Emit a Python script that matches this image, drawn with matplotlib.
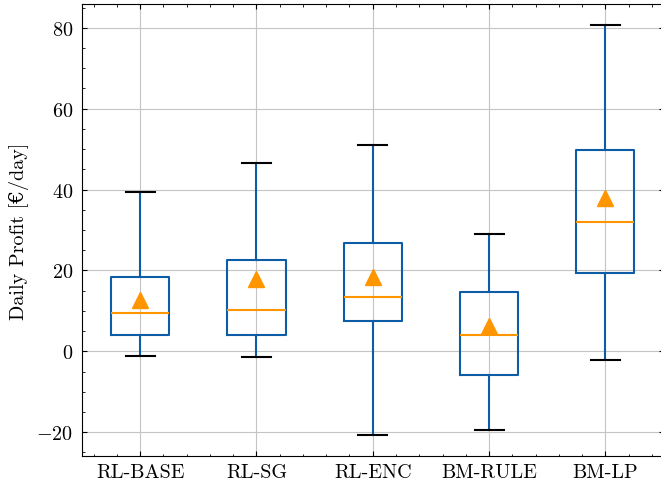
import matplotlib
matplotlib.use("Agg")
import matplotlib.pyplot as plt

# values
labels = ["RL-BASE", "RL-SG", "RL-ENC", "BM-RULE", "BM-LP"]
whis_lo = [-1.2, -1.3, -20.8, -19.5, -2.1]
q1 = [4.0, 4.0, 7.6, -5.8, 19.4]
med = [9.5, 10.1, 13.4, 4.1, 32.1]
q3 = [18.4, 22.5, 26.7, 14.6, 49.8]
whis_hi = [39.3, 46.6, 51.1, 29.1, 80.8]
means = [12.8, 18.0, 18.3, 6.2, 37.9]

plt.rcParams.update({
    "font.family": ["cmr10", "DejaVu Serif"],
    "mathtext.fontset": "cm",
    "axes.formatter.use_mathtext": True,
    "font.size": 14.5,
    "xtick.direction": "in",
    "ytick.direction": "in",
    "xtick.top": True,
    "ytick.right": True,
    "xtick.minor.visible": True,
    "ytick.minor.visible": True,
    "xtick.major.size": 3.5,
    "ytick.major.size": 3.5,
    "xtick.minor.size": 1.8,
    "ytick.minor.size": 1.8,
    "axes.linewidth": 0.8,
})

stats = []
for i in range(len(labels)):
    stats.append(dict(label=labels[i], whislo=whis_lo[i], q1=q1[i], med=med[i],
                      q3=q3[i], whishi=whis_hi[i], mean=means[i], fliers=[]))

fig = plt.figure(figsize=(6.61, 4.85), dpi=100)
ax = fig.add_axes([82 / 661, 1 - 457 / 485, 581.5 / 661, 452 / 485])

blue = "#0C5DA5"
orange = "#FF9500"
ax.bxp(stats, showmeans=True, widths=0.5,
       boxprops=dict(color=blue, linewidth=1.5),
       whiskerprops=dict(color=blue, linewidth=1.5),
       capprops=dict(color="black", linewidth=1.5),
       medianprops=dict(color=orange, linewidth=1.5),
       meanprops=dict(marker="^", markerfacecolor=orange, markeredgecolor=orange,
                      markersize=11))

ax.grid(True, color="#c4c4c4", linewidth=0.8)
ax.set_axisbelow(True)
ax.set_xlim(0.5, 5.5)
ax.set_ylabel("Daily Profit [€/day]")
ax.yaxis.set_label_coords(-0.091, 0.5)
ax.tick_params(axis="x", which="major", pad=5)
ax.tick_params(axis="y", which="major", pad=6.5)

fig.savefig("out.png", dpi=100)
